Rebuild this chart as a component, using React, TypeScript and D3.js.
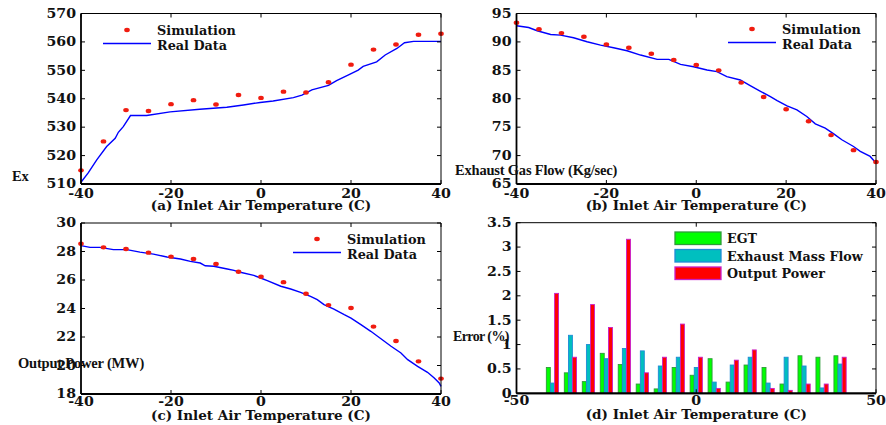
import React from 'react'
import * as d3 from 'd3'

// inlet air temperature for the simulation points and the error bars
const simTemp = [-40, -35, -30, -25, -20, -15, -10, -5, 0, 5, 10, 15, 20, 25, 30, 35, 40]

// (a) exhaust gas temperature
const egtSim = [514.8, 525.0, 536.0, 535.7, 538.1, 539.5, 538.0, 541.3, 540.3, 542.5, 542.2, 545.8, 552.0, 557.3, 559.1, 562.5, 562.9]
const egtRealTemp = [-40, -38.4, -36.5, -34.3, -32.4, -31.7, -30.6, -29.0, -25.4, -20.2, -13.6, -7.6, -3.9, -0.2, 2.7, 7.2, 9.1, 11.3, 15.0, 16.8, 19.8, 21.6, 22.7, 25.7, 27.6, 30.2, 31.9, 33.9, 40]
const egtReal = [510.6, 513.9, 518.5, 523.2, 526.1, 528.2, 530.2, 534.1, 534.1, 535.4, 536.3, 537.0, 537.8, 538.7, 539.2, 540.4, 541.3, 543.1, 544.7, 546.4, 548.7, 550.1, 551.4, 553.0, 555.4, 557.7, 559.7, 560.2, 560.2]

// (b) exhaust gas flow
const flowSim = [93.36, 92.25, 91.55, 90.9, 89.56, 88.98, 87.92, 86.81, 85.94, 85.0, 82.84, 80.32, 78.16, 76.05, 73.6, 70.96, 68.86]
const flowRealTemp = [-40, -37.3, -35.4, -32.4, -30.2, -27.3, -24.3, -21.3, -18.4, -15.4, -12.4, -8.7, -6.1, -3.5, -0.6, 2.4, 4.6, 6.8, 9.8, 12.0, 14.3, 16.5, 18.0, 20.2, 22.4, 24.6, 26.5, 28.7, 30.6, 32.4, 35.0, 36.5, 38.7, 40]
const flowReal = [92.84, 92.54, 91.96, 91.3, 91.2, 90.73, 90.03, 89.44, 88.98, 88.45, 87.69, 86.93, 86.93, 86.05, 85.64, 85.06, 84.77, 83.89, 83.3, 82.3, 81.3, 80.38, 79.68, 78.74, 78.04, 76.87, 75.58, 74.82, 73.83, 72.78, 71.6, 70.73, 69.85, 68.68]

// (c) output power
const powerSim = [28.55, 28.29, 28.18, 27.92, 27.64, 27.47, 27.12, 26.58, 26.23, 25.85, 25.04, 24.24, 24.03, 22.73, 21.72, 20.29, 19.08]
const powerRealTemp = [-40, -38, -35.8, -32.8, -29.8, -26.9, -23.9, -20.9, -17.9, -15.7, -13.5, -12.4, -10.5, -7.5, -6.0, -4.6, -1.6, -0.1, 1.4, 4.4, 6.6, 8.8, 11.0, 12.5, 14.0, 16.2, 18.5, 20.0, 22.2, 24.4, 25.9, 27.4, 28.9, 31.1, 32.6, 34.8, 37.0, 38.5, 39.6, 40]
const powerReal = [28.41, 28.29, 28.29, 28.13, 28.13, 27.96, 27.82, 27.61, 27.47, 27.31, 27.19, 27.0, 26.96, 26.77, 26.68, 26.54, 26.33, 26.14, 25.95, 25.56, 25.37, 25.13, 24.85, 24.62, 24.27, 23.96, 23.57, 23.33, 22.87, 22.4, 22.05, 21.7, 21.35, 20.88, 20.41, 19.94, 19.52, 19.12, 18.77, 18.54]

// (d) error %
const egtErr = [0.53, 0.42, 0.24, 0.82, 0.59, 0.19, 0.09, 0.53, 0.37, 0.71, 0.23, 0.58, 0.53, 0.19, 0.77, 0.74, 0.77]
const flowErr = [0.21, 1.19, 1.0, 0.71, 0.92, 0.87, 0.56, 0.74, 0.53, 0.23, 0.58, 0.74, 0.21, 0.74, 0.56, 0.11, 0.60]
const powerErr = [2.05, 0.74, 1.82, 1.35, 3.16, 0.42, 0.74, 1.42, 0.74, 0.10, 0.68, 0.89, 0.10, 0.06, 0.19, 0.19, 0.74]
const errNames = ['EGT', 'Exhaust Mass Flow', 'Output Power']

const tempTicks = [-40, -20, 0, 20, 40]
const errTempTicks = [-50, 0, 50]
const egtTicks = [510, 520, 530, 540, 550, 560, 570]
const flowTicks = [65, 70, 75, 80, 85, 90, 95]
const powerTicks = [18, 20, 22, 24, 26, 28, 30]
const errTicks = [0, 0.5, 1, 1.5, 2, 2.5, 3, 3.5]

const SERIF = '"DejaVu Serif", serif'
const TIMES = '"Liberation Serif", "Times New Roman", serif'

const T = ({x, y, sx = 1, anchor = 'start', size = 12, children, dy = 0}: any) => (
    <text transform={`translate(${x},${y}) scale(${sx},1)`} textAnchor={anchor} dy={dy}
        fontFamily={SERIF} fontWeight="bold" fontSize={size} fill="#111">{children}</text>
)

const Frame = ({x, y, xTicks, yTicks, xTickDy, yFmt = (d: number) => String(d)}: any) => {
    const [x0, x1] = x.range()
    const [y1, y0] = y.range()
    const tl = 4
    return (
        <g>
            <line x1={x0} x2={x1} y1={y0} y2={y0} stroke="#000" strokeWidth={1} />
            <line x1={x1} x2={x1} y1={y0} y2={y1} stroke="#000" strokeWidth={1} />
            <line x1={x0} x2={x1} y1={y1} y2={y1} stroke="#000" strokeWidth={1.8} />
            <line x1={x0} x2={x0} y1={y0} y2={y1} stroke="#000" strokeWidth={1.8} />
            {yTicks.map((t: number) => (
                <g key={'y' + t}>
                    <line x1={x0} x2={x0 + tl} y1={y(t)} y2={y(t)} stroke="#000" />
                    <line x1={x1} x2={x1 - tl} y1={y(t)} y2={y(t)} stroke="#000" />
                    <T x={x0 - 5} y={y(t)} dy="0.36em" anchor="end" sx={1.18}>{yFmt(t)}</T>
                </g>
            ))}
            {xTicks.map((t: number) => (
                <g key={'x' + t}>
                    <line x1={x(t)} x2={x(t)} y1={y1} y2={y1 - tl} stroke="#000" />
                    <line x1={x(t)} x2={x(t)} y1={y0} y2={y0 + tl} stroke="#000" />
                    <T x={x(t)} y={y1 + xTickDy} anchor="middle" sx={1.18}>{t}</T>
                </g>
            ))}
        </g>
    )
}

const LinePanel = ({rect, xDomain, yDomain, yTicks, simY, realX, realY, xLabel, yLabel, yLabelPos, legend, xTickDy}: any) => {
    const x = d3.scaleLinear().domain(xDomain).range([rect.x0, rect.x1])
    const y = d3.scaleLinear().domain(yDomain).range([rect.y1, rect.y0])
    const line = d3.line<number>().x((d, i) => x(realX[i])).y(d => y(d))
    return (
        <g>
            <path d={line(realY) || ''} fill="none" stroke="#0000ff" strokeWidth={1.4} />
            {simY.map((v: number, i: number) => (
                <ellipse key={i} cx={x(simTemp[i])} cy={y(v)} rx={2.8} ry={2.2} fill="#f01c10" />
            ))}
            <Frame x={x} y={y} xTicks={tempTicks} yTicks={yTicks} xTickDy={xTickDy} />
            <ellipse cx={legend.x + 24} cy={legend.y} rx={2.8} ry={2.2} fill="#f01c10" />
            <line x1={legend.x} x2={legend.x + 48} y1={legend.y + 13.5} y2={legend.y + 13.5} stroke="#0000ff" strokeWidth={1.4} />
            <T x={legend.x + 54} y={legend.y + 5} sx={1.07}>Simulation</T>
            <T x={legend.x + 54} y={legend.y + 20} sx={1.07}>Real Data</T>
            <T x={(rect.x0 + rect.x1) / 2} y={rect.y1 + 26} anchor="middle" sx={1.13}>{xLabel}</T>
            <text x={yLabelPos[0]} y={yLabelPos[1]} fontFamily={TIMES} fontWeight="bold" fontSize={14.5}
                letterSpacing={-0.2} fill="#111">{yLabel}</text>
        </g>
    )
}

const BarPanel = ({rect}: any) => {
    const x = d3.scaleLinear().domain([-50, 50]).range([rect.x0, rect.x1])
    const y = d3.scaleLinear().domain([0, 3.5]).range([rect.y1, rect.y0])
    const series = [egtErr, flowErr, powerErr]
    const fills = ['#00ff00', '#00bfbf', '#ff0000']
    const edges = ['#2e9a3a', '#1f8ad6', '#c81ec8']
    const off = 1.15, bw = 1.1
    const lx = 675, ly = 232
    return (
        <g>
            {series.map((s, k) => s.map((v, i) => {
                const c = simTemp[i] + (k - 1) * off
                return <rect key={k + '-' + i} x={x(c - bw / 2)} y={y(v)} width={x(bw) - x(0)} height={y(0) - y(v)}
                    fill={fills[k]} stroke={edges[k]} strokeWidth={0.9} />
            }))}
            <line x1={rect.x0} x2={rect.x1} y1={y(0)} y2={y(0)} stroke="#000" strokeWidth={1.8} />
            <Frame x={x} y={y} xTicks={errTempTicks} yTicks={errTicks} xTickDy={12} />
            {errNames.map((n, k) => (
                <g key={n}>
                    <rect x={lx} y={ly + k * 17.5} width={46} height={12.5} fill={fills[k]} stroke={edges[k]} strokeWidth={1.3} />
                    <T x={lx + 52} y={ly + k * 17.5 + 11} sx={1.06}>{n}</T>
                </g>
            ))}
            <T x={(rect.x0 + rect.x1) / 2} y={rect.y1 + 26} anchor="middle" sx={1.13}>(d) Inlet Air Temperature (C)</T>
            <text x={453} y={341} fontFamily={TIMES} fontWeight="bold" fontSize={14} letterSpacing={-0.6} fill="#111">Error (%)</text>
        </g>
    )
}

export default function App() {
    const left = {x0: 81, x1: 441}
    const right = {x0: 516.5, x1: 876}
    const top = {y0: 13.5, y1: 184}
    const bottom = {y0: 223, y1: 394}
    return (
        <svg width={886} height={425} style={{position: 'absolute', left: 0, top: 0, background: '#fff'}}>
            <rect width={886} height={425} fill="#fff" />
            <LinePanel rect={{...left, ...top}} xDomain={[-40, 40]} yDomain={[510, 570]} yTicks={egtTicks}
                simY={egtSim} realX={egtRealTemp} realY={egtReal} xTickDy={14}
                xLabel="(a) Inlet Air Temperature (C)" yLabel="Ex" yLabelPos={[12, 181]}
                legend={{x: 103, y: 30}} />
            <LinePanel rect={{...right, ...top}} xDomain={[-40, 40]} yDomain={[65, 95]} yTicks={flowTicks}
                simY={flowSim} realX={flowRealTemp} realY={flowReal} xTickDy={14}
                xLabel="(b) Inlet Air Temperature (C)" yLabel="Exhaust Gas Flow (Kg/sec)" yLabelPos={[455, 175]}
                legend={{x: 728, y: 29}} />
            <LinePanel rect={{...left, ...bottom}} xDomain={[-40, 40]} yDomain={[18, 30]} yTicks={powerTicks}
                simY={powerSim} realX={powerRealTemp} realY={powerReal} xTickDy={12}
                xLabel="(c) Inlet Air Temperature (C)" yLabel="Output Power (MW)" yLabelPos={[18, 368]}
                legend={{x: 293, y: 239}} />
            <BarPanel rect={{...right, y0: 222.7, y1: 393.3}} />
        </svg>
    )
}
